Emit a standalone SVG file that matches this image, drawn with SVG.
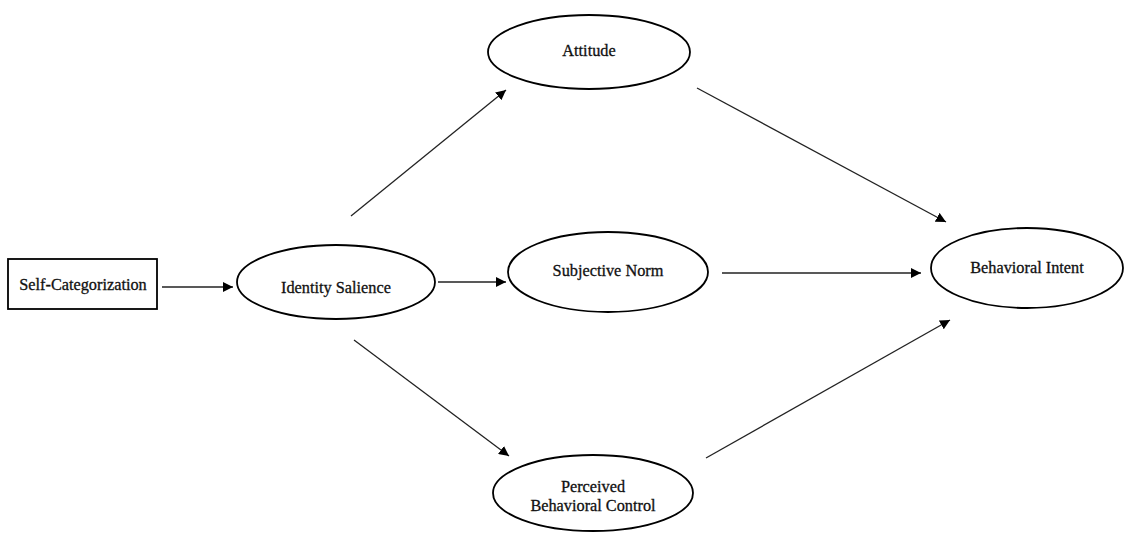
<svg xmlns="http://www.w3.org/2000/svg" width="1125" height="533" viewBox="0 0 1125 533">
<style>
.n{fill:#fff;stroke:#000;stroke-width:1.8}
.t{font-family:"Liberation Serif","Times New Roman",serif;font-size:16.3px;fill:#111;text-anchor:middle;stroke:#111;stroke-width:0.3}
.c{stroke:#222;stroke-width:1.3;fill:none;marker-end:url(#a)}
</style>
<defs>
<marker id="a" viewBox="0 0 10 10" refX="10" refY="5" markerWidth="10" markerHeight="10" markerUnits="userSpaceOnUse" orient="auto">
<path d="M0,0 L10,5 L0,10 z" fill="#000"/>
</marker>
</defs>
<g id="connectors">
<line class="c" x1="162" y1="287" x2="233" y2="287"/>
<line class="c" x1="438" y1="282" x2="506" y2="282"/>
<line class="c" x1="722" y1="273" x2="921" y2="273"/>
<line class="c" x1="351" y1="216" x2="506" y2="90"/>
<line class="c" x1="697" y1="88" x2="946" y2="222"/>
<line class="c" x1="354" y1="340" x2="509" y2="456"/>
<line class="c" x1="706" y1="458" x2="950" y2="320"/>
</g>
<g id="self-categorization">
<rect class="n" x="8" y="259" width="149" height="50"/>
<text class="t" x="83" y="290">Self-Categorization</text>
</g>
<g id="identity-salience">
<ellipse class="n" cx="336" cy="282" rx="99" ry="37"/>
<text class="t" x="336" y="293">Identity Salience</text>
</g>
<g id="attitude">
<ellipse class="n" cx="589" cy="52" rx="101" ry="37"/>
<text class="t" x="589" y="56">Attitude</text>
</g>
<g id="subjective-norm">
<ellipse class="n" cx="608" cy="272" rx="100" ry="40"/>
<text class="t" x="608" y="276">Subjective Norm</text>
</g>
<g id="perceived-behavioral-control">
<ellipse class="n" cx="593" cy="493" rx="100" ry="38"/>
<text class="t" x="593" y="492">Perceived</text>
<text class="t" x="593" y="511">Behavioral Control</text>
</g>
<g id="behavioral-intent">
<ellipse class="n" cx="1027" cy="268" rx="96" ry="40"/>
<text class="t" x="1027" y="273">Behavioral Intent</text>
</g>
</svg>
